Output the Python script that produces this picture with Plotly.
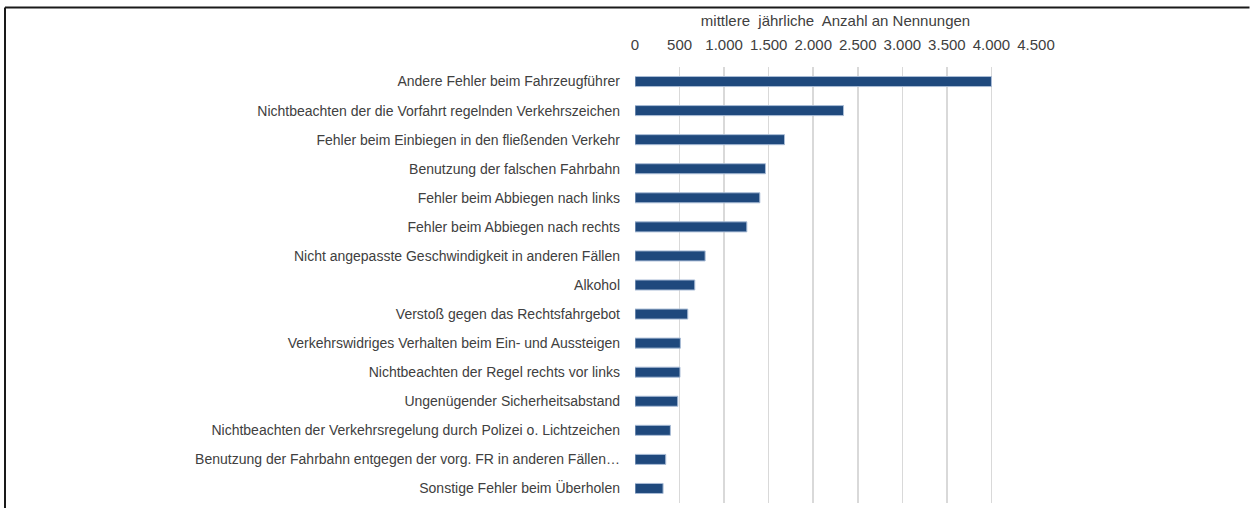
import plotly.graph_objects as go

categories = [
    "Andere Fehler beim Fahrzeugführer",
    "Nichtbeachten der die Vorfahrt regelnden Verkehrszeichen",
    "Fehler beim Einbiegen in den fließenden Verkehr",
    "Benutzung der falschen Fahrbahn",
    "Fehler beim Abbiegen nach links",
    "Fehler beim Abbiegen nach rechts",
    "Nicht angepasste Geschwindigkeit in anderen Fällen",
    "Alkohol",
    "Verstoß gegen das Rechtsfahrgebot",
    "Verkehrswidriges Verhalten beim Ein- und Aussteigen",
    "Nichtbeachten der Regel rechts vor links",
    "Ungenügender Sicherheitsabstand",
    "Nichtbeachten der Verkehrsregelung durch Polizei o. Lichtzeichen",
    "Benutzung der Fahrbahn entgegen der vorg. FR in anderen Fällen…",
    "Sonstige Fehler beim Überholen",
]
values = [4000, 2340, 1678, 1464, 1401, 1255, 787, 671, 592, 509, 505, 480, 397, 345, 315]
tick_vals = [0, 500, 1000, 1500, 2000, 2500, 3000, 3500, 4000, 4500]

FONT = "Liberation Sans, Arial, sans-serif"
TXT = "#404040"

fig = go.Figure(go.Bar(
    x=values, y=categories, orientation="h", width=0.345,
    marker=dict(color="#1F497D", line=dict(color="#A9BCD6", width=1)),
    hoverinfo="skip",
))

W, H = 1250, 508
L, T, B = 635, 67, 5
R = W - L - 401
pw, ph = W - L - R, H - T - B

fig.update_layout(
    width=W, height=H,
    margin=dict(l=L, r=R, t=T, b=B, pad=0),
    plot_bgcolor="white", paper_bgcolor="white",
    separators=",.",
    showlegend=False,
    font=dict(family=FONT, size=14, color=TXT),
    xaxis=dict(
        side="top", range=[0, 4500], tickvals=tick_vals, tickformat=",d",
        showgrid=True, gridcolor="#D9D9D9", gridwidth=1.5,
        zeroline=False, showline=False, ticks="",
        ticklabelstandoff=13,
        tickfont=dict(family=FONT, size=15, color=TXT),
        title=dict(text="mittlere  jährliche  Anzahl an Nennungen",
                   font=dict(family=FONT, size=15, color=TXT), standoff=5),
    ),
    yaxis=dict(
        autorange=False, range=[len(categories) - 0.5, -0.5],
        ticks="", showgrid=False, zeroline=False, showline=False,
        ticklabelstandoff=14,
        tickfont=dict(family=FONT, size=14, color=TXT),
    ),
)

# frame (left and top edges)
x_left = (5 - L) / pw
x_right = (W - 0.5 - L) / pw
y_top = 1 + (T - 7.5) / ph
y_bot = -B / ph
fig.add_shape(type="line", xref="paper", yref="paper",
              x0=x_left, x1=x_right, y0=y_top, y1=y_top,
              line=dict(color="#1A1A1A", width=2))
fig.add_shape(type="line", xref="paper", yref="paper",
              x0=x_left, x1=x_left, y0=y_top, y1=y_bot,
              line=dict(color="#1A1A1A", width=2))

fig.write_html(
    "out.html",
    config={"displayModeBar": False, "staticPlot": True},
    post_script=(
        "document.documentElement.style.margin='0';"
        "document.documentElement.style.overflow='hidden';"
        "document.body.style.margin='0';"
        "document.body.style.overflow='hidden';"
        "document.documentElement.style.background='white';"
    ),
)
